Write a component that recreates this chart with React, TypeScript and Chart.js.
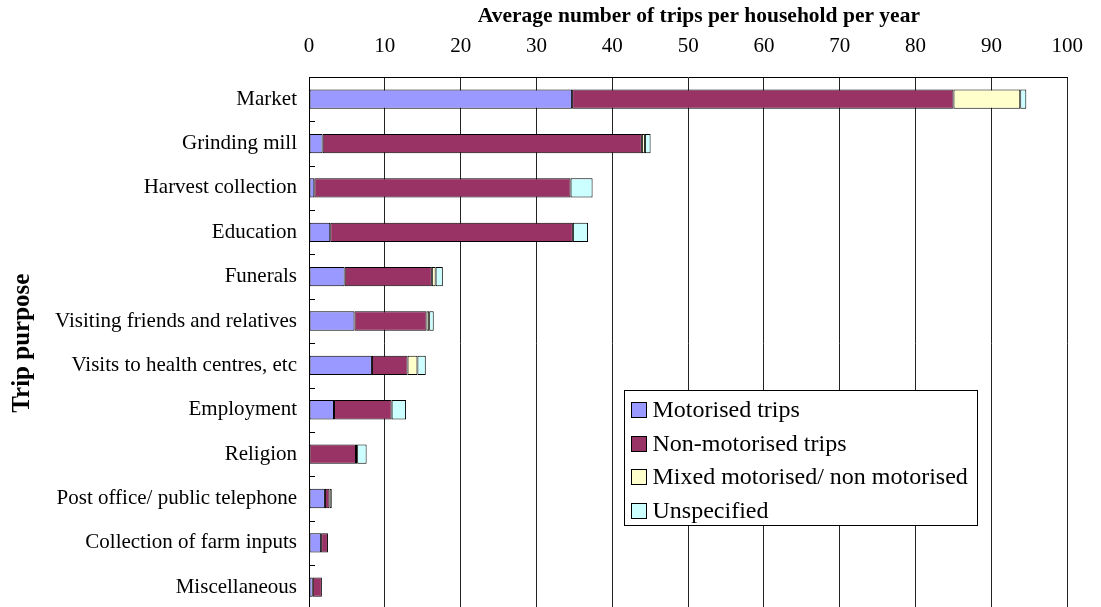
import React, { useEffect, useRef } from "react";
import { Chart, registerables } from "chart.js";

Chart.register(...registerables);

const categories = [
  "Market",
  "Grinding mill",
  "Harvest collection",
  "Education",
  "Funerals",
  "Visiting friends and relatives",
  "Visits to health centres, etc",
  "Employment",
  "Religion",
  "Post office/ public telephone",
  "Collection of farm inputs",
  "Miscellaneous",
];

const motorised = [34.7, 1.8, 0.7, 2.8, 4.7, 6.0, 8.3, 3.3, 0, 2.1, 1.6, 0.5];
const nonMotorised = [50.3, 42.1, 33.8, 32.0, 11.5, 9.5, 4.7, 7.6, 6.2, 0.6, 0.9, 1.2];
const mixed = [8.8, 0.4, 0, 0, 0.5, 0.35, 1.3, 0, 0.15, 0.3, 0, 0];
const unspecified = [0.8, 0.75, 2.9, 2.0, 0.95, 0.6, 1.1, 1.9, 1.25, 0, 0, 0];

const seriesLabels = [
  "Motorised trips",
  "Non-motorised trips",
  "Mixed motorised/ non motorised",
  "Unspecified",
];
const seriesColors = ["#9999FF", "#993366", "#FFFFCC", "#CCFFFF"];

const xTicks = [0, 10, 20, 30, 40, 50, 60, 70, 80, 90, 100];

const FONT = "'Liberation Serif', 'Times New Roman', serif";

const innerTicks = {
  id: "innerTicks",
  afterDatasetsDraw(chart: any) {
    const ys = chart.scales.y;
    const ctx = chart.ctx;
    const left = chart.chartArea.left;
    ctx.save();
    ctx.strokeStyle = "#000";
    ctx.lineWidth = 1;
    for (let i = 0; i < categories.length - 1; i++) {
      const py = Math.round(ys.getPixelForValue(i + 0.5)) + 0.5;
      ctx.beginPath();
      ctx.moveTo(left, py);
      ctx.lineTo(left + 6, py);
      ctx.stroke();
    }
    ctx.restore();
  },
};

const boxLegend = {
  id: "boxLegend",
  afterDraw(chart: any) {
    const ctx = chart.ctx;
    const ca = chart.chartArea;
    const bx = Math.round(ca.left + 315) + 0.5;
    const by = Math.round(ca.top + 313) + 0.5;
    const bw = 353;
    const bh = 135;
    ctx.save();
    ctx.fillStyle = "#fff";
    ctx.fillRect(bx, by, bw, bh);
    ctx.strokeStyle = "#000";
    ctx.lineWidth = 1;
    ctx.strokeRect(bx, by, bw, bh);
    ctx.font = `24px ${FONT}`;
    ctx.textBaseline = "alphabetic";
    ctx.textAlign = "left";
    chart.data.datasets.forEach((ds: any, i: number) => {
      const base = by + 26.5 + i * 33.5;
      const sx = bx + 7;
      const sy = Math.round(base - 15) + 0.5;
      ctx.fillStyle = ds.backgroundColor;
      ctx.fillRect(sx, sy, 15, 15);
      ctx.strokeStyle = "#000";
      ctx.strokeRect(sx, sy, 15, 15);
      ctx.fillStyle = "#000";
      ctx.fillText(ds.label, bx + 28, base);
    });
    ctx.restore();
  },
};

export default function App() {
  const ref = useRef<HTMLCanvasElement | null>(null);

  useEffect(() => {
    if (!ref.current) return;
    Chart.defaults.font.family = FONT;
    Chart.defaults.color = "#000";
    const values = [motorised, nonMotorised, mixed, unspecified];
    const chart = new Chart(ref.current, {
      type: "bar",
      data: {
        labels: categories,
        datasets: values.map((v, i) => ({
          label: seriesLabels[i],
          data: v,
          backgroundColor: seriesColors[i],
          borderColor: "#000",
          borderWidth: 1,
          borderSkipped: false,
          categoryPercentage: 0.87,
          barPercentage: 0.5,
        })),
      },
      options: {
        indexAxis: "y",
        responsive: false,
        animation: false,
        layout: { padding: { left: 0, right: 24, top: 0, bottom: 1 } },
        plugins: {
          legend: { display: false },
          tooltip: { enabled: false },
        },
        scales: {
          x: {
            position: "top",
            stacked: true,
            min: 0,
            max: 100,
            afterBuildTicks: (s: any) => {
              s.ticks = xTicks.map((v) => ({ value: v }));
            },
            afterFit: (s: any) => {
              s.height = 77;
            },
            ticks: {
              font: { size: 21, family: FONT },
              color: "#000",
              padding: 18,
            },
            grid: { color: "#222", lineWidth: 1, drawTicks: false },
            border: { display: true, color: "#000", width: 1 },
            title: {
              display: true,
              text: "\u00A0\u00A0\u00A0\u00A0Average number of trips per household per year",
              font: { size: 21.5, weight: "bold", family: FONT },
              color: "#000",
              padding: { top: 4, bottom: 0 },
            },
          },
          y: {
            stacked: true,
            afterFit: (s: any) => {
              s.width = 309;
            },
            ticks: {
              font: { size: 21, family: FONT },
              color: "#000",
              padding: 12,
            },
            grid: { display: true, color: "rgba(0,0,0,0)", drawTicks: false },
            border: { display: true, color: "#000", width: 1 },
            title: {
              display: true,
              text: "Trip purpose",
              font: { size: 25, weight: "bold", family: FONT },
              color: "#000",
              padding: { top: 8, bottom: 0 },
            },
          },
        },
      },
      plugins: [innerTicks, boxLegend],
    });
    return () => chart.destroy();
  }, []);

  return (
    <div style={{ position: "fixed", left: 0, top: 0, width: 1101, height: 634, background: "#fff" }}>
      <canvas ref={ref} width={1101} height={634} style={{ display: "block" }} />
    </div>
  );
}
